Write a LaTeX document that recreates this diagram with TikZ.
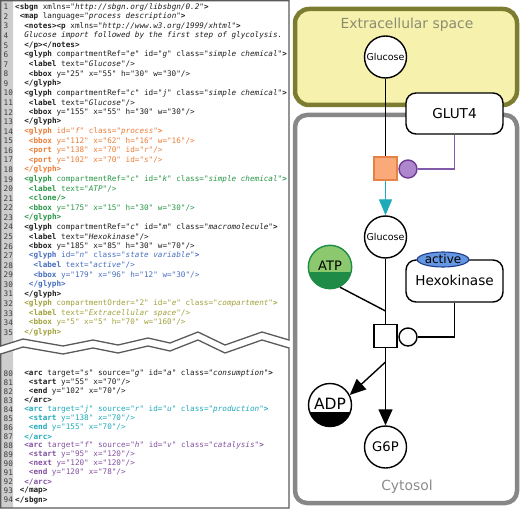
\documentclass[tikz,border=0pt]{standalone}
\usepackage{fontspec}
\usetikzlibrary{arrows.meta,shapes.geometric,calc}
\newfontfamily\codefont{DejaVu Sans Mono}
\newfontfamily\dfont{DejaVu Sans}
\definecolor{cblack}{RGB}{30,30,30}
\definecolor{cnumc}{RGB}{60,60,60}
\definecolor{gutterc}{RGB}{205,205,205}
\definecolor{panelc}{RGB}{90,90,90}
\definecolor{corange}{RGB}{235,125,55}
\definecolor{cgreen}{RGB}{40,150,70}
\definecolor{cblue}{RGB}{70,110,190}
\definecolor{colive}{RGB}{160,160,60}
\definecolor{cteal}{RGB}{30,170,185}
\definecolor{cpurple}{RGB}{130,80,160}
\definecolor{exfill}{RGB}{246,242,174}
\definecolor{exborder}{RGB}{125,125,50}
\definecolor{extext}{RGB}{140,140,112}
\definecolor{cyborder}{RGB}{135,135,135}
\definecolor{cytext}{RGB}{140,140,140}
\definecolor{procfill}{RGB}{250,170,120}
\definecolor{procborder}{RGB}{230,130,70}
\definecolor{purfill}{RGB}{175,135,205}
\definecolor{purborder}{RGB}{110,60,150}
\definecolor{purline}{RGB}{130,90,170}
\definecolor{atplight}{RGB}{140,200,110}
\definecolor{atpdark}{RGB}{30,140,70}
\definecolor{actfill}{RGB}{100,150,225}
\definecolor{actborder}{RGB}{30,60,140}
\newcommand\T[1]{\textbf{#1}}
\newcommand\V[2]{#1="\textit{#2}"}
\newcommand\Nm[2]{#1="#2"}
\newcommand\codeup[4]{%
  \pgfmathsetmacro\yy{7+(#1-1)*9.57}%
  \pgfmathsetmacro\xx{15+#2*4.59}%
  \node[cnum] (n#1) at (3.5,\yy) {#1};
  \node[code,text=#3] (l#1) at (\xx,\yy) {#4};}
\newcommand\codelo[4]{%
  \pgfmathsetmacro\yy{373.3+(#1-80)*9.05}%
  \pgfmathsetmacro\xx{15+#2*4.59}%
  \node[cnum] (n#1) at (3.5,\yy) {#1};
  \node[code,text=#3] (l#1) at (\xx,\yy) {#4};}
\begin{document}
\begin{tikzpicture}[x=1bp,y=-1bp,
  code/.style={anchor=west,inner sep=0pt,font=\fontsize{7.65bp}{9bp}\codefont},
  cnum/.style={anchor=west,inner sep=0pt,text=cnumc,font=\fontsize{7.65bp}{9bp}\codefont},
  panel/.style={draw=panelc,line width=1.3bp,fill=white},
  comp/.style={rounded corners=14bp,line width=4.5bp},
  big/.style={font=\fontsize{13.6bp}{15bp}\dfont},
  chem/.style={circle,draw=black,line width=1.4bp,fill=white,minimum size=42bp,inner sep=0pt},
  macro/.style={rectangle,rounded corners=10bp,draw=black,line width=1.4bp,fill=white,minimum width=97bp,inner sep=0pt,big},
  proc/.style={rectangle,draw=black,line width=1.4bp,fill=white,minimum size=23bp,inner sep=0pt},
  catc/.style={circle,draw=black,line width=1.4bp,fill=white,minimum size=18bp,inner sep=0pt},
  edge/.style={line width=1.4bp,draw=black},
  tip/.style={-{Triangle[width=14bp,length=16bp]}}
]
\useasboundingbox (0,0) rectangle (520,509);
% ---------------- left panel -----------------
\fill[gutterc] (0.75,0.75) -- (13,0.75) -- (13,342) -- (0.75,346) -- cycle;
\draw[panelc,line width=1.3bp] (0.75,346) -- (0.75,0.75) -- (289,0.75) -- (289,340) -- (262,332) -- (225,345) -- (198,332) -- (170,343) -- (148,338) -- (118,345) -- (93,340) -- (63,346) -- (23,339) -- cycle;
\fill[gutterc] (0.75,354) -- (13,350) -- (13,508) -- (0.75,508) -- cycle;
\draw[panelc,line width=1.3bp] (0.75,354) -- (23,347) -- (63,354) -- (93,348) -- (118,353) -- (148,346) -- (170,351) -- (198,340) -- (225,353) -- (262,340) -- (289,348) -- (289,508) -- (0.75,508) -- cycle;
\codeup{1}{0}{cblack}{\T{<sbgn} \V{xmlns}{http://sbgn.org/libsbgn/0.2}\T{>}}
\codeup{2}{1}{cblack}{\T{<map} \V{language}{process description}\T{>}}
\codeup{3}{2}{cblack}{\T{<notes><p} \V{xmlns}{http://www.w3.org/1999/xhtml}\T{>}}
\codeup{4}{2}{cblack}{\textit{Glucose import followed by the first step of glycolysis.}}
\codeup{5}{2}{cblack}{\T{</p></notes>}}
\codeup{6}{2}{cblack}{\T{<glyph} \V{compartmentRef}{e} \V{id}{g} \V{class}{simple chemical}\T{>}}
\codeup{7}{3}{cblack}{\T{<label} \V{text}{Glucose}/>}
\codeup{8}{3}{cblack}{\T{<bbox} \Nm{y}{25} \Nm{x}{55} \Nm{h}{30} \Nm{w}{30}/>}
\codeup{9}{2}{cblack}{\T{</glyph>}}
\codeup{10}{2}{cblack}{\T{<glyph} \V{compartmentRef}{c} \V{id}{j} \V{class}{simple chemical}\T{>}}
\codeup{11}{3}{cblack}{\T{<label} \V{text}{Glucose}/>}
\codeup{12}{3}{cblack}{\T{<bbox} \Nm{y}{155} \Nm{x}{55} \Nm{h}{30} \Nm{w}{30}/>}
\codeup{13}{2}{cblack}{\T{</glyph>}}
\codeup{14}{2}{corange}{\T{<glyph} \V{id}{f} \V{class}{process}\T{>}}
\codeup{15}{3}{corange}{\T{<bbox} \Nm{y}{112} \Nm{x}{62} \Nm{h}{16} \Nm{w}{16}/>}
\codeup{16}{3}{corange}{\T{<port} \Nm{y}{138} \Nm{x}{70} \V{id}{r}/>}
\codeup{17}{3}{corange}{\T{<port} \Nm{y}{102} \Nm{x}{70} \V{id}{s}/>}
\codeup{18}{2}{corange}{\T{</glyph>}}
\codeup{19}{2}{cgreen}{\T{<glyph} \V{compartmentRef}{c} \V{id}{k} \V{class}{simple chemical}\T{>}}
\codeup{20}{3}{cgreen}{\T{<label} \V{text}{ATP}/>}
\codeup{21}{3}{cgreen}{\T{<clone/>}}
\codeup{22}{3}{cgreen}{\T{<bbox} \Nm{y}{175} \Nm{x}{15} \Nm{h}{30} \Nm{w}{30}/>}
\codeup{23}{2}{cgreen}{\T{</glyph>}}
\codeup{24}{2}{cblack}{\T{<glyph} \V{compartmentRef}{c} \V{id}{m} \V{class}{macromolecule}\T{>}}
\codeup{25}{3}{cblack}{\T{<label} \V{text}{Hexokinase}/>}
\codeup{26}{3}{cblack}{\T{<bbox} \Nm{y}{185} \Nm{x}{85} \Nm{h}{30} \Nm{w}{70}/>}
\codeup{27}{3}{cblue}{\T{<glyph} \V{id}{n} \V{class}{state variable}\T{>}}
\codeup{28}{4}{cblue}{\T{<label} \V{text}{active}/>}
\codeup{29}{4}{cblue}{\T{<bbox} \Nm{y}{179} \Nm{x}{96} \Nm{h}{12} \Nm{w}{30}/>}
\codeup{30}{3}{cblue}{\T{</glyph>}}
\codeup{31}{2}{cblack}{\T{</glyph>}}
\codeup{32}{2}{colive}{\T{<glyph} \Nm{compartmentOrder}{2} \V{id}{e} \V{class}{compartment}\T{>}}
\codeup{33}{3}{colive}{\T{<label} \V{text}{Extracellular space}/>}
\codeup{34}{3}{colive}{\T{<bbox} \Nm{y}{5} \Nm{x}{5} \Nm{h}{70} \Nm{w}{160}/>}
\codeup{35}{2}{colive}{\T{</glyph>}}
\codelo{80}{2}{cblack}{\T{<arc} \V{target}{s} \V{source}{g} \V{id}{a} \V{class}{consumption}\T{>}}
\codelo{81}{3}{cblack}{\T{<start} \Nm{y}{55} \Nm{x}{70}/>}
\codelo{82}{3}{cblack}{\T{<end} \Nm{y}{102} \Nm{x}{70}/>}
\codelo{83}{2}{cblack}{\T{</arc>}}
\codelo{84}{2}{cteal}{\T{<arc} \V{target}{j} \V{source}{r} \V{id}{u} \V{class}{production}\T{>}}
\codelo{85}{3}{cteal}{\T{<start} \Nm{y}{138} \Nm{x}{70}/>}
\codelo{86}{3}{cteal}{\T{<end} \Nm{y}{155} \Nm{x}{70}/>}
\codelo{87}{2}{cteal}{\T{</arc>}}
\codelo{88}{2}{cpurple}{\T{<arc} \V{target}{f} \V{source}{h} \V{id}{v} \V{class}{catalysis}\T{>}}
\codelo{89}{3}{cpurple}{\T{<start} \Nm{y}{95} \Nm{x}{120}/>}
\codelo{90}{3}{cpurple}{\T{<next} \Nm{y}{120} \Nm{x}{120}/>}
\codelo{91}{3}{cpurple}{\T{<end} \Nm{y}{120} \Nm{x}{78}/>}
\codelo{92}{2}{cpurple}{\T{</arc>}}
\codelo{93}{1}{cblack}{\T{</map>}}
\codelo{94}{0}{cblack}{\T{</sbgn>}}
% ---------------- right panel -----------------
\draw[comp,draw=exborder,fill=exfill] (295,9) rectangle (517,105);
\draw[comp,rounded corners=12bp,draw=cyborder,fill=white] (295,115) rectangle (517,503);
\node[big,text=extext,font=\fontsize{13.9bp}{15bp}\dfont] (extl) at (407,25) {Extracellular space};
\node[big,text=cytext,font=\fontsize{13.9bp}{15bp}\dfont] (cytl) at (407,487) {Cytosol};
% nodes
\node[chem,font=\fontsize{9.5bp}{11bp}\dfont] (gluT) at (385.5,57) {Glucose};
\node[macro,minimum height=41bp] (glut) at (454.5,113.5) {GLUT4};
\node[proc,draw=procborder,fill=procfill] (p1) at (385.5,168.5) {};
\node[catc,draw=purborder,fill=purfill] (c1) at (408,169) {};
\node[chem,font=\fontsize{9.5bp}{11bp}\dfont] (gluB) at (385.5,237) {Glucose};
\node[chem,draw=atpdark,minimum size=43.4bp,fill=atplight,font=\fontsize{13bp}{15bp}\dfont,
  path picture={\fill[atpdark] (path picture bounding box.south west) rectangle ([yshift=16.5bp]path picture bounding box.south east);}] (atp) at (330,267) {\raisebox{2bp}{ATP}};
\node[macro,minimum height=42bp] (hex) at (454.5,281) {\raisebox{1.5bp}{Hexokinase}};
\node[ellipse,draw=actborder,line width=1.1bp,fill=actfill,minimum width=42bp,minimum height=15bp,inner sep=0pt,font=\fontsize{12bp}{13bp}\dfont] (act) at (443,259.5) {active};
\node[proc] (p2) at (385.5,336) {};
\node[catc] (c2) at (408,337) {};
\node[chem,minimum size=43bp,font=\fontsize{15.5bp}{17bp}\dfont,
  path picture={\fill[black] (path picture bounding box.south west) rectangle ([yshift=15bp]path picture bounding box.south east);}] (adp) at (330,405) {\raisebox{3bp}{ADP}};
\node[chem,font=\fontsize{13.2bp}{15bp}\dfont] (g6p) at (385.5,447) {G6P};
\coordinate (jA) at (385.5,311);
\coordinate (jD) at (385.5,362);
% connectors
\draw[edge] (gluT.south) -- (p1.north);
\draw[edge,draw=cteal,-{Triangle[width=13bp,length=16bp]},cteal] (p1.south) -- (gluB.north);
\draw[edge,draw=purline] (c1.east) -| (glut.south);
\draw[edge] (gluB.south) -- (p2.north);
\draw[edge] (atp.-64) -- (jA);
\draw[edge] (c2.east) -| (hex.south);
\draw[edge,tip] (p2.south) -- (g6p.north);
\draw[edge,tip] (jD) -- (adp.27);
\end{tikzpicture}
\end{document}
